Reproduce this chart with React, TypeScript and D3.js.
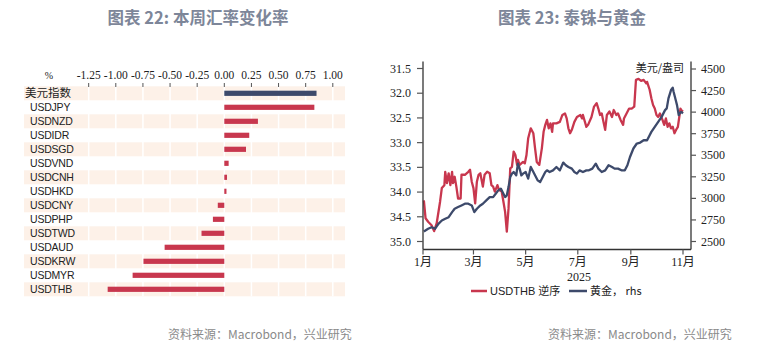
import React from "react";
import * as d3 from "d3";

// ---- Chart 22 data ----
const fxCategories = ["美元指数","USDJPY","USDNZD","USDIDR","USDSGD","USDVND","USDCNH","USDHKD","USDCNY","USDPHP","USDTWD","USDAUD","USDKRW","USDMYR","USDTHB"];
const fxChanges = [0.85,0.83,0.31,0.23,0.20,0.04,0.025,0.02,-0.06,-0.105,-0.21,-0.55,-0.745,-0.845,-1.075];
const fxTicks = [-1.25,-1.0,-0.75,-0.5,-0.25,0,0.25,0.5,0.75,1.0];

// ---- Chart 23 data (day offset from 2025-01-01, value) ----
const thbDays = [1,3,6,10,13,16,20,22,25,26,28,30,32,34,35,37,39,41,44,45,49,53,55,57,59,61,63,65,67,70,72,75,78,80,82,84,87,89,92,94,96,98,100,102,104,106,108,110,111,113,117,119,121,123,126,129,131,133,136,139,141,143,145,147,149,151,152,156,160,163,166,168,170,172,174,177,180,184,186,187,191,193,197,200,203,205,207,209,211,213,215,218,221,223,226,228,231,234,235,238,241,244,247,249,252,255,258,261,262,265,267,269,271,273,275,277,280,282,284,286,288,290,292,294,296,298,300,301,302,304];
const thbVals = [34.17,34.53,34.60,34.67,34.79,34.63,34.19,33.92,33.86,33.59,33.82,33.62,33.86,33.59,33.82,33.69,33.89,34.13,34.13,33.65,33.65,33.59,33.55,33.79,33.92,34.23,33.79,33.65,33.62,33.89,33.65,33.59,33.62,33.86,33.89,33.99,33.86,33.96,33.99,34.19,34.40,34.80,34.33,33.52,33.49,33.18,33.25,33.45,33.35,33.45,33.39,33.42,33.25,32.91,32.71,32.81,33.11,33.39,33.45,33.11,32.78,32.64,32.54,32.71,32.61,32.78,32.61,32.61,32.58,32.44,32.41,32.51,32.71,32.81,32.74,32.58,32.48,32.44,32.51,32.44,32.68,32.64,32.48,32.27,32.20,32.31,32.44,32.41,32.58,32.74,32.44,32.37,32.48,32.34,32.44,32.41,32.54,32.64,32.51,32.41,32.31,32.31,32.27,31.73,31.71,31.75,31.73,31.80,31.77,31.93,32.10,32.24,32.31,32.44,32.48,32.41,32.54,32.64,32.51,32.68,32.61,32.71,32.68,32.81,32.74,32.68,32.44,32.31,32.34,32.37];
const goldDays = [1,6,10,14,18,22,26,30,34,37,41,45,49,53,57,60,63,67,70,74,78,82,85,88,91,93,96,98,100,102,104,106,109,111,113,115,117,120,123,126,128,131,134,137,140,143,145,148,152,156,160,164,167,170,174,177,180,183,187,191,194,198,202,205,209,213,217,221,224,228,232,236,239,242,246,250,254,258,262,265,267,271,275,279,283,285,287,290,292,293,296,297,299,300,302,304];
const goldVals = [2616,2647,2666,2647,2705,2744,2764,2782,2840,2880,2899,2918,2938,2938,2918,2840,2880,2918,2938,2976,3015,3015,3054,3093,3113,3073,3015,3035,3131,3247,3287,3306,3267,3403,3345,3267,3287,3306,3229,3364,3325,3267,3209,3189,3247,3306,3325,3306,3325,3364,3325,3415,3384,3364,3345,3306,3287,3325,3306,3325,3325,3345,3403,3345,3306,3325,3384,3364,3345,3345,3325,3325,3384,3480,3578,3636,3647,3674,3674,3732,3771,3829,3887,3945,4023,4043,4159,4256,4283,4236,4120,4081,3965,3985,4003,3985];
const thbTicks = [31.5,32.0,32.5,33.0,33.5,34.0,34.5,35.0];
const goldTicks = [2500,2750,3000,3250,3500,3750,4000,4250,4500];
const monthTicks = [1,3,5,7,9,11];

const RED = "#c8374e";
const NAVY = "#3d4a6b";
const TITLE = "#7d8699";
const SERIF = "'Liberation Serif','Noto Sans CJK SC',serif";
const SANS = "'Liberation Sans',Arial,'Noto Sans CJK SC',sans-serif";
const CJK = "'Noto Sans CJK SC',sans-serif";

export default function App() {
  // chart 22
  const x1 = d3.scaleLinear().domain([0, 1]).range([224.3, 332.8]);
  const yb = d3.scaleBand().domain(fxCategories).range([86.3, 296.3]).padding(0);
  // chart 23
  const base = new Date(2025, 0, 1);
  const toDate = (d: number) => d3.timeDay.offset(base, d);
  const xt = d3.scaleTime().domain([base, new Date(2025, 10, 1)]).range([423, 683]);
  const yl = d3.scaleLinear().domain([31.5, 35.0]).range([68.5, 241.5]);
  const yr = d3.scaleLinear().domain([2500, 4500]).range([241.5, 69]);
  const thbLine = d3.line<number>().x((_, i) => xt(toDate(thbDays[i]))).y((v) => yl(v)).curve(d3.curveLinear);
  const goldLine = d3.line<number>().x((_, i) => xt(toDate(goldDays[i]))).y((v) => yr(v)).curve(d3.curveLinear);

  const axisColor = "#333";
  return (
    <svg width={759} height={348} style={{ display: "block", position: "absolute", left: 0, top: 0, background: "#fff" }}>
      <rect x={0} y={0} width={759} height={348} fill="#fff" />
      {/* Titles */}
      <text x={198} y={24} textAnchor="middle" fontFamily={CJK} fontWeight={700} fontSize={16.5} fill={TITLE}>图表 22: 本周汇率变化率</text>
      <text x={572} y={24} textAnchor="middle" fontFamily={CJK} fontWeight={700} fontSize={16.5} fill={TITLE}>图表 23: 泰铢与黄金</text>

      {/* ---- Chart 22 ---- */}
      {fxCategories.map((c, i) => i % 2 === 0 ? (
        <rect key={c} x={24} y={yb(c)!} width={321} height={yb.bandwidth()} fill="#fdf1e8" />
      ) : null)}
      {fxTicks.map((t) => (
        <line key={"g" + t} x1={x1(t)} x2={x1(t)} y1={86.3} y2={296.3} stroke="#fff" strokeWidth={1.5} />
      ))}
      {fxTicks.map((t) => (
        <g key={"t" + t}>
          <line x1={x1(t)} x2={x1(t)} y1={83} y2={87} stroke="#555" strokeWidth={1} />
          <text x={x1(t)} y={79} textAnchor="middle" fontFamily={SERIF} fontSize={11.5} fill="#222">{t.toFixed(2)}</text>
        </g>
      ))}
      <text x={49} y={79} textAnchor="middle" fontFamily={SERIF} fontSize={10} fill="#222">%</text>
      {fxCategories.map((c, i) => {
        const v = fxChanges[i];
        const cy = yb(c)! + yb.bandwidth() / 2;
        return (
          <g key={"b" + c}>
            <rect x={Math.min(x1(0), x1(v))} y={cy - 2.6} width={Math.abs(x1(v) - x1(0))} height={5.2} fill={i === 0 ? NAVY : RED} />
            <text x={i === 0 ? 25 : 30} y={cy + 4} fontFamily={i === 0 ? CJK : SANS} fontSize={i === 0 ? 11.5 : 10.5} fill="#222" style={i === 0 ? {} : { letterSpacing: "-0.2px" }}>{c}</text>
          </g>
        );
      })}

      {/* ---- Chart 23 ---- */}
      <path d={thbLine(thbVals)!} fill="none" stroke={RED} strokeWidth={2.3} strokeLinejoin="round" />
      <path d={goldLine(goldVals)!} fill="none" stroke={NAVY} strokeWidth={2.3} strokeLinejoin="round" />
      {/* axes */}
      <line x1={423} x2={423} y1={61.5} y2={249.5} stroke={axisColor} strokeWidth={1.3} />
      <line x1={691} x2={691} y1={61.5} y2={249.5} stroke={axisColor} strokeWidth={1.3} />
      <line x1={423} x2={691} y1={249.5} y2={249.5} stroke={axisColor} strokeWidth={1.3} />
      {thbTicks.map((t) => (
        <g key={"l" + t}>
          <line x1={417} x2={423} y1={yl(t)} y2={yl(t)} stroke="#555" strokeWidth={1.2} />
          <text x={411} y={yl(t) + 4} textAnchor="end" fontFamily={SERIF} fontSize={12} fill="#222">{t.toFixed(1)}</text>
        </g>
      ))}
      {goldTicks.map((t) => (
        <g key={"r" + t}>
          <line x1={691} x2={696} y1={yr(t)} y2={yr(t)} stroke="#555" strokeWidth={1.2} />
          <text x={701} y={yr(t) + 4} fontFamily={SERIF} fontSize={12} fill="#222">{t}</text>
        </g>
      ))}
      {monthTicks.map((m) => {
        const xx = xt(new Date(2025, m - 1, 1));
        return (
          <g key={"m" + m}>
            <line x1={xx} x2={xx} y1={249.5} y2={254.5} stroke="#555" strokeWidth={1.2} />
            <text x={xx} y={266} textAnchor="middle" fontFamily={SERIF} fontSize={12} fill="#222">{m}月</text>
          </g>
        );
      })}
      <text x={579} y={281} textAnchor="middle" fontFamily={SERIF} fontSize={12} fill="#222">2025</text>
      <text x={684} y={72} textAnchor="end" fontFamily={CJK} fontSize={11} fill="#222">美元/盎司</text>
      {/* legend */}
      <line x1={471} x2={487} y1={291} y2={291} stroke={RED} strokeWidth={2.5} />
      <text x={490} y={295} fontFamily={SANS} fontSize={11} fill="#222">USDTHB 逆序</text>
      <line x1={569} x2={587} y1={291} y2={291} stroke={NAVY} strokeWidth={2.5} />
      <text x={590} y={295} fontFamily={CJK} fontSize={11} fill="#222">黄金， rhs</text>

      {/* footers */}
      <text x={168} y={339} fontFamily={CJK} fontSize={12} fill="#8a8a8a">资料来源：Macrobond，兴业研究</text>
      <text x={548} y={339} fontFamily={CJK} fontSize={12} fill="#8a8a8a">资料来源：Macrobond，兴业研究</text>
    </svg>
  );
}
